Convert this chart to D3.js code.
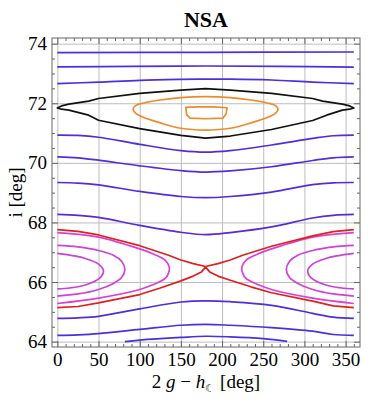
<!DOCTYPE html>
<html>
<head>
<meta charset="utf-8">
<script src="https://cdn.jsdelivr.net/npm/d3@7"></script>
<style>
  body { margin: 0; background: #fff; }
  text { font-family: "Liberation Serif", "Times New Roman", serif; fill: #000; }
</style>
</head>
<body>
<svg id="Chart"></svg>
<script>
// tick values
let xTicks = [0, 50, 100, 150, 200, 250, 300, 350]
let yTicks = [64, 66, 68, 70, 72, 74]

// contour levels, points are [2g - h, i]
let blue1 = [[0, 73.70], [180, 73.71], [360, 73.72]]
let blue2 = [[0, 73.22], [90, 73.24], [180, 73.25], [270, 73.24], [360, 73.21]]
let blue3 = [[0, 72.66], [50, 72.71], [100, 72.77], [150, 72.80], [180, 72.81], [210, 72.81], [260, 72.78], [310, 72.71], [360, 72.66]]
let blueA = [[0, 70.93], [25, 70.92], [50, 70.86], [100, 70.62], [150, 70.41], [180, 70.36], [210, 70.41], [260, 70.60], [310, 70.82], [335, 70.91], [360, 70.93]]
let blueB = [[0, 70.20], [25, 70.17], [50, 70.09], [100, 69.90], [150, 69.74], [180, 69.69], [210, 69.73], [260, 69.87], [310, 70.08], [335, 70.17], [360, 70.20]]
let blueC = [[0, 69.34], [25, 69.32], [50, 69.26], [100, 69.04], [150, 68.87], [180, 68.83], [210, 68.87], [260, 69.02], [310, 69.27], [335, 69.33], [360, 69.34]]
let blueD = [[0, 68.27], [25, 68.24], [50, 68.17], [100, 67.90], [150, 67.67], [180, 67.59], [210, 67.66], [260, 67.85], [310, 68.15], [335, 68.24], [360, 68.27]]
let blueE = [[0, 64.78], [25, 64.80], [50, 64.85], [100, 65.10], [150, 65.33], [180, 65.37], [210, 65.34], [260, 65.22], [310, 64.95], [335, 64.82], [360, 64.78]]
let blueF = [[0, 64.21], [25, 64.23], [50, 64.27], [100, 64.41], [150, 64.55], [180, 64.58], [210, 64.55], [260, 64.47], [310, 64.35], [335, 64.24], [360, 64.21]]
let blueG = [[82, 64.00], [100, 64.05], [150, 64.14], [180, 64.18], [210, 64.16], [250, 64.10], [279, 64.01]]

let blackSep = [[0, 71.84], [5, 71.91], [14, 71.97], [38, 72.07], [50, 72.16], [100, 72.33], [150, 72.44], [180, 72.49], [210, 72.44], [260, 72.33], [310, 72.16], [322, 72.07], [346, 71.97], [355, 71.91], [360, 71.84],
                [355, 71.80], [346, 71.77], [327, 71.60], [310, 71.42], [260, 71.12], [210, 70.90], [180, 70.83], [150, 70.92], [100, 71.15], [50, 71.43], [38, 71.60], [14, 71.77], [5, 71.80]]

let orangeOuter = [[92, 71.80], [95, 71.92], [105, 72.01], [125, 72.11], [150, 72.19], [180, 72.22], [210, 72.19], [235, 72.11], [255, 72.01], [265, 71.92], [268, 71.80],
                   [265, 71.67], [255, 71.52], [235, 71.34], [210, 71.16], [180, 71.10], [150, 71.16], [125, 71.34], [105, 71.52], [95, 71.67]]
let orangeInner = [[156, 71.86], [170, 71.88], [190, 71.88], [206, 71.85], [205, 71.65], [201, 71.50], [180, 71.48], [161, 71.50], [157, 71.62]]

let redUpper = [[0, 67.76], [25, 67.70], [50, 67.58], [100, 67.22], [135, 66.90], [150, 66.74], [165, 66.62], [180, 66.52],
                [195, 66.62], [210, 66.74], [225, 66.90], [260, 67.20], [310, 67.55], [335, 67.69], [360, 67.76]]
let redLower = [[0, 65.14], [25, 65.18], [50, 65.30], [100, 65.58], [125, 65.80], [150, 66.04], [165, 66.20], [175, 66.34], [180, 66.50],
                [185, 66.34], [195, 66.20], [210, 66.06], [235, 65.84], [260, 65.64], [310, 65.36], [335, 65.20], [360, 65.14]]

let magentaL1 = [[0, 67.66], [50, 67.51], [99, 67.12], [120, 66.90], [131, 66.73], [136, 66.50], [135, 66.30], [131, 66.12], [115, 65.90], [99, 65.74], [50, 65.46], [0, 65.28]]
let magentaL2 = [[0, 67.23], [25, 67.18], [50, 67.06], [68, 66.90], [78, 66.70], [82, 66.42], [78, 66.15], [68, 65.95], [50, 65.75], [25, 65.60], [0, 65.53]]
let magentaL3 = [[0, 66.96], [20, 66.88], [34, 66.79], [50, 66.60], [56, 66.38], [51, 66.12], [34, 65.90], [15, 65.80], [0, 65.77]]
let magentaR1 = [[360, 67.66], [310, 67.51], [261, 67.12], [240, 66.90], [229, 66.73], [224, 66.50], [225, 66.30], [229, 66.12], [245, 65.90], [261, 65.74], [310, 65.46], [360, 65.28]]
let magentaR2 = [[360, 67.23], [335, 67.18], [310, 67.06], [292, 66.90], [282, 66.70], [278, 66.42], [282, 66.15], [292, 65.95], [310, 65.75], [335, 65.60], [360, 65.53]]
let magentaR3 = [[360, 66.96], [340, 66.88], [326, 66.79], [310, 66.60], [304, 66.38], [309, 66.12], [326, 65.90], [345, 65.80], [360, 65.77]]

let contours = [
  { points: blue1, color: "#4a30e4", closed: false, smooth: true },
  { points: blue2, color: "#4c2fe2", closed: false, smooth: true },
  { points: blue3, color: "#4e2ee0", closed: false, smooth: true },
  { points: blueA, color: "#532cdc", closed: false, smooth: true },
  { points: blueB, color: "#552cdb", closed: false, smooth: true },
  { points: blueC, color: "#572bd9", closed: false, smooth: true },
  { points: blueD, color: "#5a2ad6", closed: false, smooth: true },
  { points: blueE, color: "#502ed8", closed: false, smooth: true },
  { points: blueF, color: "#4c30dc", closed: false, smooth: true },
  { points: blueG, color: "#4832e0", closed: false, smooth: true },
  { points: blackSep, color: "#111111", closed: true, smooth: false },
  { points: orangeOuter, color: "#ef8a2a", closed: true, smooth: true },
  { points: orangeInner, color: "#ef8a2a", closed: true, smooth: false },
  { points: magentaL1, color: "#de3ed8", closed: false, smooth: true },
  { points: magentaL2, color: "#d040dc", closed: false, smooth: true },
  { points: magentaL3, color: "#c843dc", closed: false, smooth: true },
  { points: magentaR1, color: "#de3ed8", closed: false, smooth: true },
  { points: magentaR2, color: "#d040dc", closed: false, smooth: true },
  { points: magentaR3, color: "#c843dc", closed: false, smooth: true },
  { points: redUpper, color: "#e0201c", closed: false, smooth: false },
  { points: redLower, color: "#e0201c", closed: false, smooth: false }
]

function getConfig() {
  let width = 374
  let height = 405
  let margin = { top: 38, bottom: 58, left: 52, right: 14 }
  let bodyWidth = width - margin.left - margin.right
  let bodyHeight = height - margin.top - margin.bottom
  let container = d3.select("#Chart")
    .attr("width", width)
    .attr("height", height)
  return { width, height, margin, bodyWidth, bodyHeight, container }
}

function getScales(config) {
  let { bodyWidth, bodyHeight } = config
  let xScale = d3.scaleLinear()
    .domain([-6.5, 367.5])
    .range([0, bodyWidth])
  let yScale = d3.scaleLinear()
    .domain([63.82, 74.19])
    .range([bodyHeight, 0])
  return { xScale, yScale }
}

function drawGrid(scales, config) {
  let { xScale, yScale } = scales
  let { container, margin, bodyWidth, bodyHeight } = config
  let grid = container.append("g")
    .attr("transform", `translate(${margin.left},${margin.top})`)

  grid.append("g")
    .attr("transform", `translate(0,${bodyHeight})`)
    .call(d3.axisBottom(xScale).tickValues(xTicks).tickSize(-bodyHeight).tickFormat(""))
  grid.append("g")
    .call(d3.axisLeft(yScale).tickValues(yTicks).tickSize(-bodyWidth).tickFormat(""))

  grid.selectAll(".domain").remove()
  grid.selectAll("line").attr("stroke", "#bdbdbd").attr("stroke-width", 1)
}

function drawContours(scales, config) {
  let { xScale, yScale } = scales
  let { container, margin } = config
  let body = container.append("g")
    .attr("transform", `translate(${margin.left},${margin.top})`)

  contours.forEach(c => {
    let curve = d3.curveLinear
    if (c.closed) curve = c.smooth ? d3.curveCatmullRomClosed.alpha(0.5) : d3.curveLinearClosed
    else if (c.smooth) curve = d3.curveCatmullRom.alpha(0.5)
    let line = d3.line()
      .x(d => xScale(d[0]))
      .y(d => yScale(d[1]))
      .curve(curve)
    body.append("path")
      .attr("d", line(c.points))
      .attr("fill", "none")
      .attr("stroke", c.color)
      .attr("stroke-width", 1.7)
      .attr("stroke-linejoin", "round")
  })
}

function drawAxes(scales, config) {
  let { xScale, yScale } = scales
  let { container, margin, bodyWidth, bodyHeight, width } = config
  let xMinor = d3.range(0, 361, 10).filter(v => v % 50 !== 0)
  let yMinor = d3.range(64, 74.01, 0.5).filter(v => v % 2 !== 0)

  let axes = container.append("g")
    .attr("transform", `translate(${margin.left},${margin.top})`)

  // bottom
  axes.append("g").attr("transform", `translate(0,${bodyHeight})`)
    .call(d3.axisBottom(xScale).tickValues(xTicks).tickSize(-6).tickPadding(6))
  axes.append("g").attr("transform", `translate(0,${bodyHeight})`)
    .call(d3.axisBottom(xScale).tickValues(xMinor).tickSize(-3).tickFormat(""))
  // top
  axes.append("g")
    .call(d3.axisTop(xScale).tickValues(xTicks).tickSize(-6).tickFormat(""))
  axes.append("g")
    .call(d3.axisTop(xScale).tickValues(xMinor).tickSize(-3).tickFormat(""))
  // left
  axes.append("g")
    .call(d3.axisLeft(yScale).tickValues(yTicks).tickSize(-6).tickPadding(5))
  axes.append("g")
    .call(d3.axisLeft(yScale).tickValues(yMinor).tickSize(-3).tickFormat(""))
  // right
  axes.append("g").attr("transform", `translate(${bodyWidth},0)`)
    .call(d3.axisRight(yScale).tickValues(yTicks).tickSize(-6).tickFormat(""))
  axes.append("g").attr("transform", `translate(${bodyWidth},0)`)
    .call(d3.axisRight(yScale).tickValues(yMinor).tickSize(-3).tickFormat(""))

  axes.selectAll(".domain").remove()
  axes.selectAll(".tick line").attr("stroke", "#666")
  axes.selectAll(".tick text")
    .style("font-family", "'Liberation Serif', serif")
    .style("font-size", "19px")
    .attr("fill", "#000")

  // frame
  axes.append("rect")
    .attr("width", bodyWidth)
    .attr("height", bodyHeight)
    .attr("fill", "none")
    .attr("stroke", "#666")
    .attr("stroke-width", 1)

  let cx = margin.left + bodyWidth / 2

  container.append("text")
    .attr("x", cx)
    .attr("y", 27)
    .attr("text-anchor", "middle")
    .style("font-size", "22px")
    .style("font-weight", "bold")
    .text("NSA")

  container.append("text")
    .attr("transform", `translate(22,${margin.top + bodyHeight / 2}) rotate(-90)`)
    .attr("text-anchor", "middle")
    .style("font-size", "19px")
    .text("i [deg]")

  let xl = container.append("text")
    .attr("x", cx)
    .attr("y", 388)
    .attr("text-anchor", "middle")
    .style("font-size", "19px")
  xl.append("tspan").text("2 ")
  xl.append("tspan").style("font-style", "italic").text("g")
  xl.append("tspan").text(" \u2212 ")
  xl.append("tspan").style("font-style", "italic").text("h")
  xl.append("tspan").attr("dy", 4).style("font-size", "11px").text("\u263E")
  xl.append("tspan").attr("dy", -4).text(" [deg]")
}

function showChart() {
  let config = getConfig()
  let scales = getScales(config)
  drawGrid(scales, config)
  drawContours(scales, config)
  drawAxes(scales, config)
}

showChart()
</script>
</body>
</html>
